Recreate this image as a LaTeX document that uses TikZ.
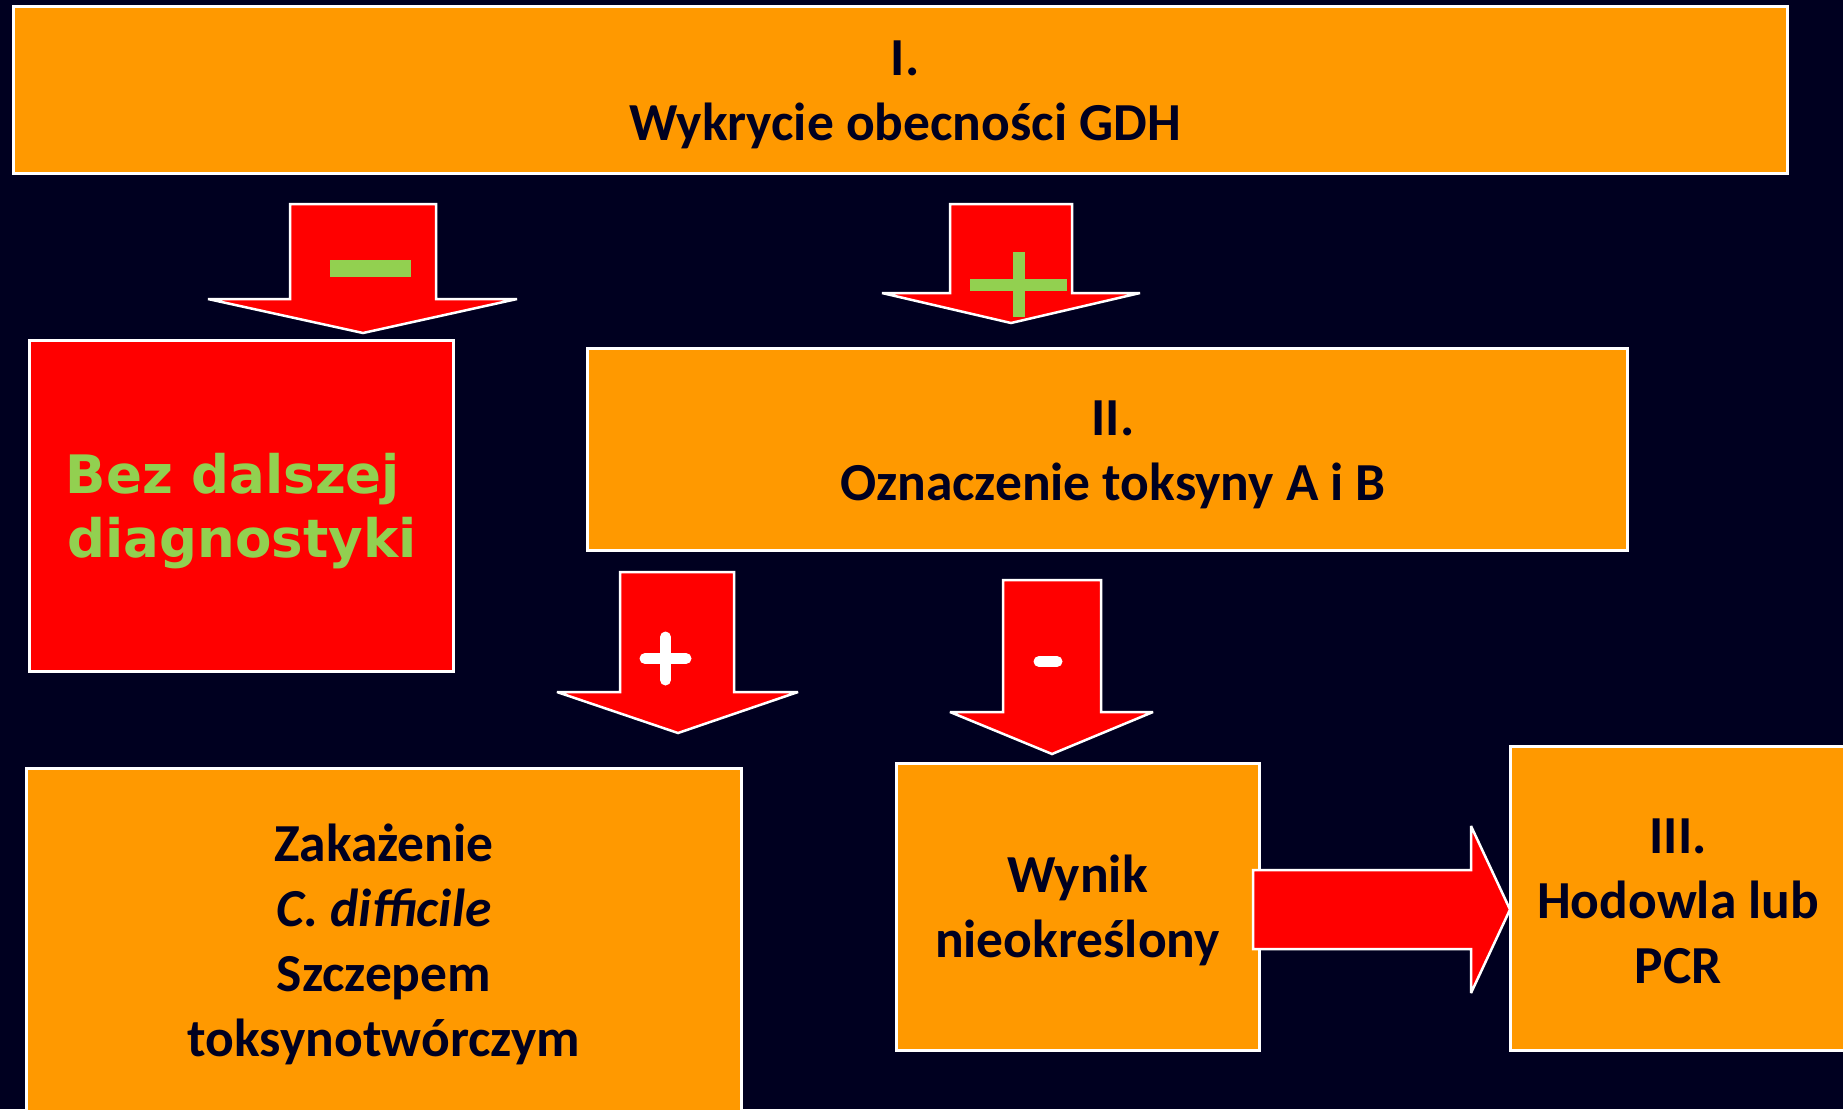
\documentclass[tikz,border=0pt]{standalone}
\usepackage{fontspec}
\setmainfont{Carlito}
\newfontfamily\verd{DejaVu Sans}
\definecolor{bgnavy}{RGB}{0,0,32}
\definecolor{boxorange}{RGB}{255,153,0}
\definecolor{boxred}{RGB}{255,0,0}
\definecolor{signgreen}{RGB}{146,208,80}
\begin{document}
\begin{tikzpicture}[x=1pt,y=-1pt,
  obox/.style={draw=white, line width=3pt, fill=boxorange, inner sep=0pt},
  rbox/.style={draw=white, line width=3pt, fill=boxred, inner sep=0pt},
  txt/.style={align=center, text=bgnavy, inner sep=0pt, font=\fontsize{53.5}{65}\selectfont\bfseries},
  gtxt/.style={align=center, text=signgreen, inner sep=0pt, font=\verd\fontsize{53}{64}\selectfont\bfseries},
  barrow/.style={draw=white, line width=2.5pt, fill=boxred, miter limit=3},
  gsign/.style={fill=signgreen},
  wsign/.style={draw=white, line width=11pt, line cap=round}]
\useasboundingbox (0,0) rectangle (1843,1109);
\clip (0,0) rectangle (1843,1109);
\fill[bgnavy] (0,0) rectangle (1843,1109);

% boxes
\node[obox, minimum width=1774pt, minimum height=167pt] (gdh) at (900,89.5) {};
\node[txt] (gdhtxt) at (905,95) {I.\\Wykrycie obecności GDH};
\node[rbox, minimum width=424pt, minimum height=331pt] (bez) at (241,505.5) {};
\node[gtxt] (beztxt) at (242,511) {Bez dalszej\hspace*{18pt}\\diagnostyki};
\node[obox, minimum width=1040pt, minimum height=202pt] (tox) at (1107,449) {};
\node[txt] (toxtxt) at (1113,455) {II.\\Oznaczenie toksyny A i B};
\node[obox, minimum width=715pt, minimum height=360pt] (zak) at (383.5,948) {};
\node[txt] (zaktxt) at (384,944)
  {Zakażenie\\\textit{C. difficile}\\Szczepem\\toksynotwórczym};
\node[obox, minimum width=363pt, minimum height=287pt] (wyn) at (1077.5,906.5) {};
\node[txt] (wyntxt) at (1077.5,910) {Wynik\\nieokreślony};
\node[obox, minimum width=340pt, minimum height=304pt] (pcr) at (1680,898) {};
\node[txt] (pcrtxt) at (1678,901) {III.\\Hodowla lub\\PCR};

% block arrow GDH -> Bez (minus)
\draw[barrow] (290,204) -- (436,204) -- (436,299) -- (517,299) -- (363,333)
  -- (208,299) -- (290,299) -- cycle;
\fill[gsign] (330,260) rectangle (411,277);

% block arrow GDH -> II (plus)
\draw[barrow] (950,204) -- (1072,204) -- (1072,293) -- (1140,293) -- (1011,323)
  -- (882,293) -- (950,293) -- cycle;
\fill[gsign] (970,279) rectangle (1067,291);
\fill[gsign] (1013,252) rectangle (1025,317);

% block arrow II -> Zakazenie (plus)
\draw[barrow] (620,572) -- (734,572) -- (734,692) -- (798,692) -- (678,733)
  -- (557,692) -- (620,692) -- cycle;
\draw[wsign] (645,658.5) -- (686,658.5);
\draw[wsign] (665.5,637) -- (665.5,680);

% block arrow II -> Wynik (minus)
\draw[barrow] (1003,580) -- (1101,580) -- (1101,712) -- (1153,712) -- (1052,754)
  -- (950,712) -- (1003,712) -- cycle;
\draw[wsign] (1039,661.5) -- (1057,661.5);

% block arrow Wynik -> III
\draw[barrow] (1253,870) -- (1471,870) -- (1471,826) -- (1510,909.5) -- (1471,993)
  -- (1471,949) -- (1253,949) -- cycle;
\end{tikzpicture}
\end{document}
